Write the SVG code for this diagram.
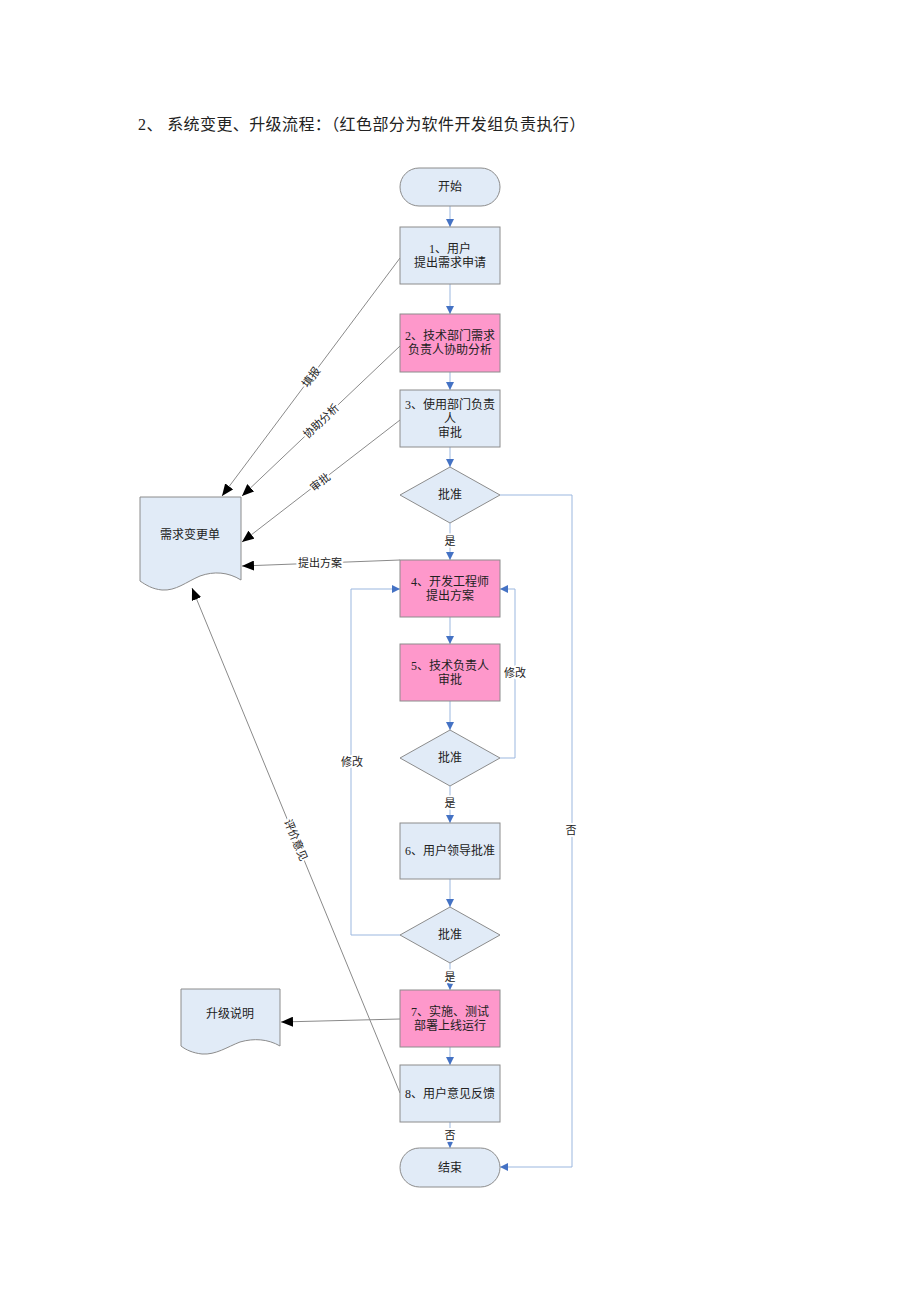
<svg xmlns="http://www.w3.org/2000/svg" width="920" height="1302" viewBox="0 0 920 1302">
<style>
text{font-family:"Liberation Serif","Noto Sans CJK SC",serif;fill:#222;}
.t{font-size:12px;text-anchor:middle;dominant-baseline:central;}
.lb{font-size:11px;text-anchor:middle;dominant-baseline:central;stroke:#fff;stroke-width:4px;paint-order:stroke;stroke-linejoin:round;}
.blue{fill:#e1ebf7;stroke:#8c8c8c;stroke-width:1;}
.pink{fill:#fe98cb;stroke:#8c8c8c;stroke-width:1;}
.c{fill:none;stroke:#9bb7df;stroke-width:1;}
.g{fill:none;stroke:#8a8a8a;stroke-width:1;}
</style>
<defs>
<marker id="ab" markerUnits="userSpaceOnUse" markerWidth="8" markerHeight="8" refX="8" refY="4" orient="auto"><path d="M0,0 L8,4 L0,8 z" fill="#4472c4"/></marker>
<marker id="ak" markerUnits="userSpaceOnUse" markerWidth="12" markerHeight="10" refX="12" refY="5" orient="auto"><path d="M0,0 L12,5 L0,10 z" fill="#000"/></marker>
</defs>
<rect width="920" height="1302" fill="#fff"/>
<text x="138" y="130" style="font-size:16px;letter-spacing:0.4px;font-family:'Liberation Serif','Noto Sans CJK SC',serif">2、 系统变更、升级流程：（红色部分为软件开发组负责执行）</text>

<g id="connectors">
<path class="c" d="M450,206 V227" marker-end="url(#ab)"/>
<path class="c" d="M450,284 V314" marker-end="url(#ab)"/>
<path class="c" d="M450,372 V390" marker-end="url(#ab)"/>
<path class="c" d="M450,447 V467" marker-end="url(#ab)"/>
<path class="c" d="M450,523 V560" marker-end="url(#ab)"/>
<path class="c" d="M450,617 V644" marker-end="url(#ab)"/>
<path class="c" d="M450,701 V730" marker-end="url(#ab)"/>
<path class="c" d="M450,786 V823" marker-end="url(#ab)"/>
<path class="c" d="M450,879 V907" marker-end="url(#ab)"/>
<path class="c" d="M450,963 V990" marker-end="url(#ab)"/>
<path class="c" d="M450,1047 V1065" marker-end="url(#ab)"/>
<path class="c" d="M450,1122 V1148" marker-end="url(#ab)"/>
<path class="c" d="M500,495 H572 V1167 H500" marker-end="url(#ab)"/>
<path class="c" d="M500,758 H515 V589 H500" marker-end="url(#ab)"/>
<path class="c" d="M400,935 H351 V589 H400" marker-end="url(#ab)"/>
<path class="g" d="M400,258 L222,496" marker-end="url(#ak)"/>
<path class="g" d="M400,346 L242,496" marker-end="url(#ak)"/>
<path class="g" d="M400,420 L242,542" marker-end="url(#ak)"/>
<path class="g" d="M400,560 L242,566" marker-end="url(#ak)"/>
<path class="g" d="M400,1093 L192,588" marker-end="url(#ak)"/>
<path class="g" d="M400,1019 L281,1022" marker-end="url(#ak)"/>
<text class="lb" x="450" y="541">是</text>
<text class="lb" x="450" y="803">是</text>
<text class="lb" x="450" y="977">是</text>
<text class="lb" x="450" y="1135">否</text>
<text class="lb" x="571" y="830">否</text>
<text class="lb" x="515" y="673">修改</text>
<text class="lb" x="352" y="762">修改</text>
<text class="lb" x="320" y="563">提出方案</text>
<text class="lb" transform="translate(311,377) rotate(-53)">填报</text>
<text class="lb" transform="translate(321,421) rotate(-43.5)">协助分析</text>
<text class="lb" transform="translate(320,482) rotate(-37.7)">审批</text>
<text class="lb" transform="translate(296,840) rotate(67.6)">评价意见</text>
</g>

<g id="start"><rect class="blue" x="400" y="168" width="100" height="38" rx="19"/><text class="t" x="450" y="187">开始</text></g>
<g id="n1"><rect class="blue" x="400" y="227" width="100" height="57"/><text class="t" x="450" y="248.5">1、用户</text><text class="t" x="450" y="262.5">提出需求申请</text></g>
<g id="n2"><rect class="pink" x="400" y="314" width="100" height="58"/><text class="t" x="450" y="336">2、技术部门需求</text><text class="t" x="450" y="350">负责人协助分析</text></g>
<g id="n3"><rect class="blue" x="400" y="390" width="100" height="57"/><text class="t" x="450" y="404.5">3、使用部门负责</text><text class="t" x="450" y="418.5">人</text><text class="t" x="450" y="432.5">审批</text></g>
<g id="d1"><polygon class="blue" points="450,467 500,495 450,523 400,495"/><text class="t" x="450" y="495">批准</text></g>
<g id="n4"><rect class="pink" x="400" y="560" width="100" height="57"/><text class="t" x="450" y="581.5">4、开发工程师</text><text class="t" x="450" y="595.5">提出方案</text></g>
<g id="n5"><rect class="pink" x="400" y="644" width="100" height="57"/><text class="t" x="450" y="665.5">5、技术负责人</text><text class="t" x="450" y="679.5">审批</text></g>
<g id="d2"><polygon class="blue" points="450,730 500,758 450,786 400,758"/><text class="t" x="450" y="758">批准</text></g>
<g id="n6"><rect class="blue" x="400" y="823" width="100" height="56"/><text class="t" x="450" y="851">6、用户领导批准</text></g>
<g id="d3"><polygon class="blue" points="450,907 500,935 450,963 400,935"/><text class="t" x="450" y="935">批准</text></g>
<g id="n7"><rect class="pink" x="400" y="990" width="100" height="57"/><text class="t" x="450" y="1011.5">7、实施、测试</text><text class="t" x="450" y="1025.5">部署上线运行</text></g>
<g id="n8"><rect class="blue" x="400" y="1065" width="100" height="57"/><text class="t" x="450" y="1093.5">8、用户意见反馈</text></g>
<g id="end"><rect class="blue" x="400" y="1148" width="100" height="39" rx="19.5"/><text class="t" x="450" y="1167.5">结束</text></g>
<g id="doc1"><path class="blue" d="M140,497 H241 V580 C228,572 214,571 200,576 C186,582 176,591 162,590 C152,589 146,585 140,581 Z"/><text class="t" x="190" y="535">需求变更单</text></g>
<g id="doc2"><path class="blue" d="M181,989 H280 V1046 C268,1039 254,1038 240,1042 C227,1047 216,1055 202,1054 C193,1053 186,1050 181,1046 Z"/><text class="t" x="230" y="1014">升级说明</text></g>
</svg>
